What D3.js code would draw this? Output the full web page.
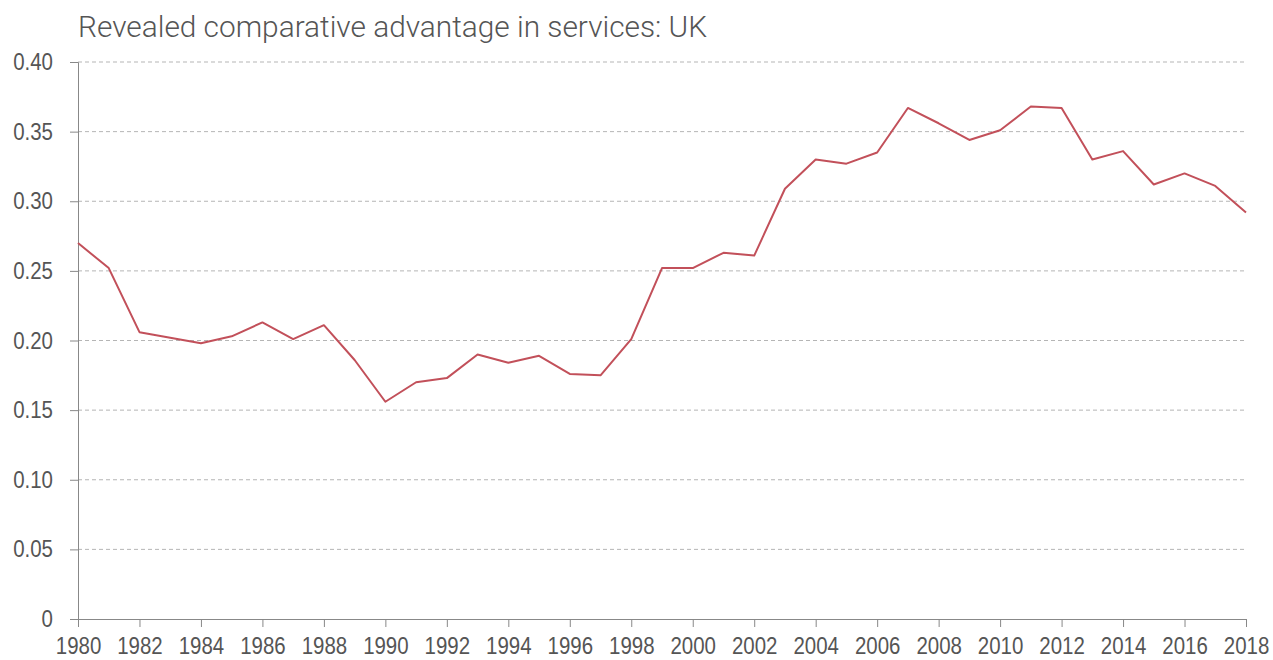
<!DOCTYPE html>
<html>
<head>
<meta charset="utf-8">
<script src="https://cdn.jsdelivr.net/npm/d3@7"></script>
<style>
  body { margin: 0; background: #fff; }
  svg { display: block; font-family: Roboto, "Noto Sans", sans-serif; }
  .tick text { fill: #555; font-size: 23.5px; font-weight: 300; }
</style>
</head>
<body>
<div id="chart"></div>
<script>
var years = [1980, 1981, 1982, 1983, 1984, 1985, 1986, 1987, 1988, 1989,
  1990, 1991, 1992, 1993, 1994, 1995, 1996, 1997, 1998, 1999,
  2000, 2001, 2002, 2003, 2004, 2005, 2006, 2007, 2008, 2009,
  2010, 2011, 2012, 2013, 2014, 2015, 2016, 2017, 2018];
var rca = [0.270, 0.252, 0.206, 0.202, 0.198, 0.203, 0.213, 0.201, 0.211, 0.186,
  0.156, 0.170, 0.173, 0.190, 0.184, 0.189, 0.176, 0.175, 0.201, 0.252,
  0.252, 0.263, 0.261, 0.309, 0.330, 0.327, 0.335, 0.367, 0.356, 0.344,
  0.351, 0.368, 0.367, 0.330, 0.336, 0.312, 0.320, 0.311, 0.292];
var yTicks = [0, 0.05, 0.10, 0.15, 0.20, 0.25, 0.30, 0.35, 0.40];
var xTicks = d3.range(1980, 2019, 2);
var title = "Revealed comparative advantage in services: UK";

var width = 1273, height = 660;
var margin = { top: 62, right: 27, bottom: 41, left: 78 };
var w = width - margin.left - margin.right,
  h = height - margin.top - margin.bottom;

// the original face is narrower than Roboto, squeeze glyphs a bit
var squeeze = 0.87;

var svg = d3.select("#chart").append("svg")
  .attr("width", width)
  .attr("height", height);

var titleText = svg.append("text")
  .attr("x", margin.left)
  .attr("y", 37)
  .style("font-size", "29.5px")
  .style("font-weight", 300)
  .style("fill", "#555")
  .text(title);
titleText.attr("textLength", 629).attr("lengthAdjust", "spacingAndGlyphs");

var g = svg.append("g")
  .attr("transform", "translate(" + margin.left + "," + margin.top + ")");

var x = d3.scaleLinear().domain([1980, 2018]).range([0, w]);
var y = d3.scaleLinear().domain([0, 0.40]).range([h, 0]);

// gridlines
g.selectAll(".grid").data(yTicks.slice(1)).enter().append("line")
  .attr("class", "grid")
  .attr("x1", 0).attr("x2", w)
  .attr("y1", function (d) { return y(d); })
  .attr("y2", function (d) { return y(d); })
  .attr("stroke", "#b5b5b5")
  .attr("stroke-width", 1)
  .attr("stroke-dasharray", "4,3");

// y axis
var yAxis = g.append("g")
  .call(d3.axisLeft(y).tickValues(yTicks).tickSize(8).tickPadding(17)
    .tickFormat(function (d) { return d === 0 ? "0" : d3.format(".2f")(d); }));
yAxis.select(".domain").attr("stroke", "#888");
yAxis.selectAll(".tick line").attr("stroke", "#888");

// x axis
var xAxis = g.append("g")
  .attr("transform", "translate(0," + h + ")")
  .call(d3.axisBottom(x).tickValues(xTicks).tickSize(8).tickPadding(10)
    .tickFormat(d3.format("d")));
xAxis.select(".domain").attr("stroke", "#888");
xAxis.selectAll(".tick line").attr("stroke", "#888");

svg.selectAll(".tick text").each(function () {
  var len = this.getComputedTextLength();
  d3.select(this).attr("textLength", len * squeeze).attr("lengthAdjust", "spacingAndGlyphs");
});

var line = d3.line()
  .x(function (d, i) { return x(years[i]); })
  .y(function (d) { return y(d); });

g.append("path")
  .datum(rca)
  .attr("fill", "none")
  .attr("stroke", "#c2505a")
  .attr("stroke-width", 2)
  .attr("stroke-linejoin", "round")
  .attr("d", line);
</script>
</body>
</html>
